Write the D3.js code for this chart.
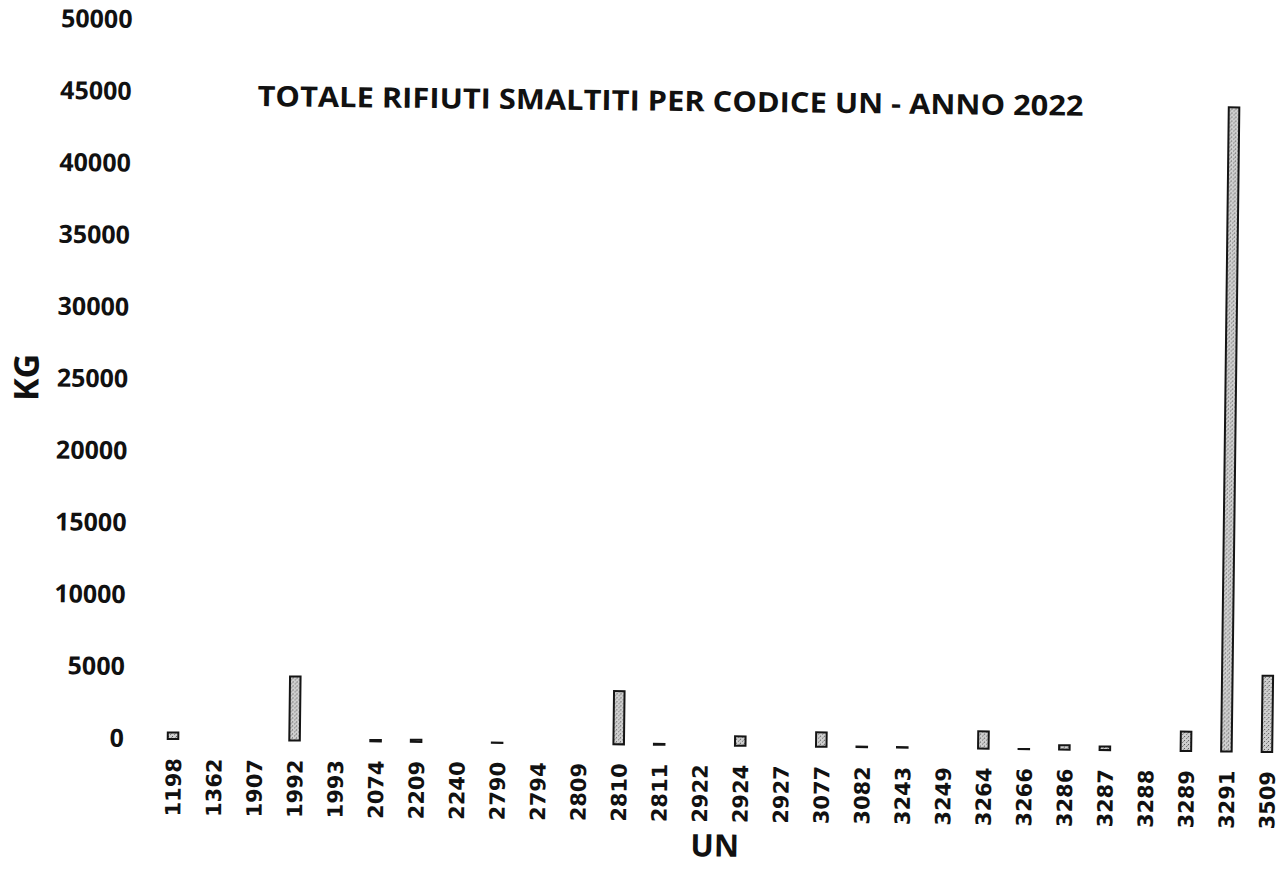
<!DOCTYPE html>
<html>
<head>
<meta charset="utf-8">
<script src="https://cdn.jsdelivr.net/npm/d3@7/dist/d3.min.js"></script>
<style>
  html, body { margin: 0; padding: 0; background: #ffffff; }
  svg { display: block; }
</style>
</head>
<body>
<svg id="chart" width="1283" height="869"></svg>
<script>
// ---- data ----
const categories = ["1198","1362","1907","1992","1993","2074","2209","2240","2790","2794","2809","2810","2811","2922","2924","2927","3077","3082","3243","3249","3264","3266","3286","3287","3288","3289","3291","3509"];
const valuesKg = [450,0,0,4450,0,100,150,0,20,0,0,3700,60,0,650,0,1000,40,40,0,1200,10,300,250,0,1350,44800,5300];
const yTicks = [0,5000,10000,15000,20000,25000,30000,35000,40000,45000,50000];
const titleText = "TOTALE RIFIUTI SMALTITI PER CODICE UN - ANNO 2022";
const yAxisTitle = "KG";
const xAxisTitle = "UN";

// ---- layout ----
const svg = d3.select("#chart");

// stippled fill, like the scanned bars
const defs = svg.append("defs");
const pat = defs.append("pattern")
  .attr("id", "stipple")
  .attr("patternUnits", "userSpaceOnUse")
  .attr("width", 4).attr("height", 4);
pat.append("rect").attr("width", 4).attr("height", 4).attr("fill", "#cfcfcf");
pat.append("rect").attr("x", 0).attr("y", 0).attr("width", 1).attr("height", 1).attr("fill", "#555");
pat.append("rect").attr("x", 2).attr("y", 2).attr("width", 1).attr("height", 1).attr("fill", "#777");
pat.append("rect").attr("x", 3).attr("y", 1).attr("width", 1).attr("height", 1).attr("fill", "#999");

const pivot = [172, 739];
const root = svg.append("g").attr("transform", `rotate(0.68,${pivot[0]},${pivot[1]})`);

const y = d3.scaleLinear().domain([0, 50000]).range([739, 20]);
const x = d3.scalePoint().domain(categories).range([173, 1267]).padding(0);
const barW = x.step() * 0.26;

// bars
root.append("g").selectAll("rect")
  .data(categories.map((c, i) => ({ c, v: valuesKg[i] })))
  .join("rect")
  .attr("x", d => x(d.c) - barW / 2)
  .attr("y", d => y(d.v))
  .attr("width", barW)
  .attr("height", d => y(0) - y(d.v))
  .attr("fill", "url(#stipple)")
  .attr("stroke", "#151515")
  .attr("stroke-width", 2);

// y axis
const yAxis = root.append("g")
  .attr("transform", "translate(127,0)")
  .call(d3.axisLeft(y).tickValues(yTicks).tickSize(0).tickPadding(3).tickFormat(d3.format("d")));
yAxis.select(".domain").remove();
yAxis.selectAll("text")
  .attr("font-family", "'Open Sans', sans-serif")
  .attr("font-weight", "bold")
  .attr("font-size", 25)
  .attr("fill", "#111");

// x axis
const xAxis = root.append("g")
  .attr("transform", "translate(0,739)")
  .call(d3.axisBottom(x).tickSize(0));
xAxis.select(".domain").remove();
xAxis.selectAll("text")
  .attr("transform", "rotate(-90)")
  .attr("x", -19)
  .attr("y", 0)
  .attr("dy", "0.37em")
  .attr("text-anchor", "end")
  .attr("font-family", "'DejaVu Sans', sans-serif")
  .attr("font-weight", "bold")
  .attr("font-size", 21)
  .attr("fill", "#111");

// title
root.append("text")
  .attr("x", 250)
  .attr("y", 105)
  .attr("textLength", 826)
  .attr("lengthAdjust", "spacingAndGlyphs")
  .attr("font-family", "'Open Sans', sans-serif")
  .attr("font-weight", "bold")
  .attr("font-size", 28)
  .attr("fill", "#111")
  .text(titleText);

// axis titles
root.append("text")
  .attr("transform", "translate(22,379) rotate(-90)")
  .attr("text-anchor", "middle")
  .attr("dy", "0.36em")
  .attr("font-family", "'Open Sans', sans-serif")
  .attr("font-weight", "bold")
  .attr("font-size", 34)
  .attr("fill", "#111")
  .text(yAxisTitle);

root.append("text")
  .attr("x", 716)
  .attr("y", 850)
  .attr("text-anchor", "middle")
  .attr("font-family", "'Open Sans', sans-serif")
  .attr("font-weight", "bold")
  .attr("font-size", 31)
  .attr("fill", "#111")
  .text(xAxisTitle);
</script>
</body>
</html>
